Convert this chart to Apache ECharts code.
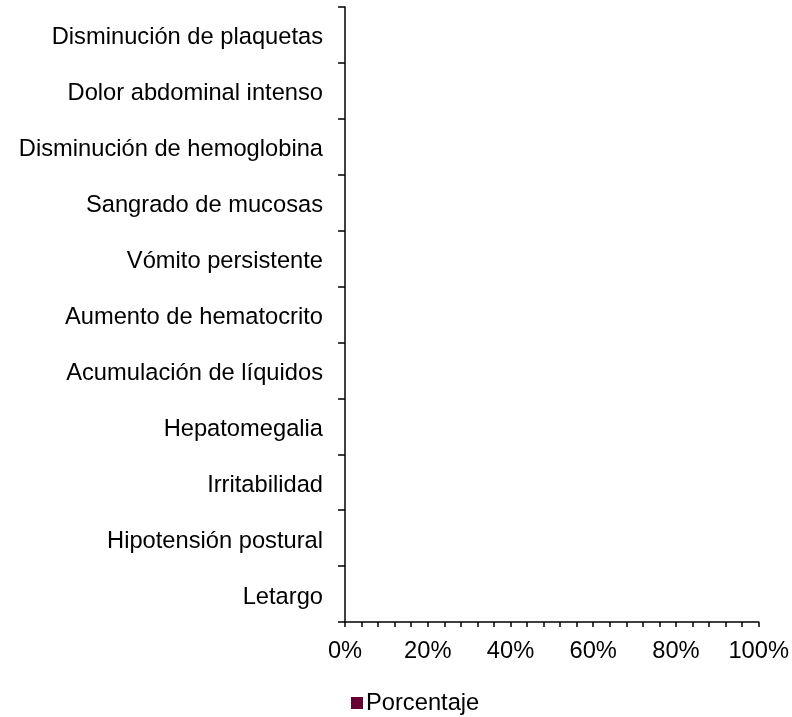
<!DOCTYPE html>
<html>
<head>
<meta charset="utf-8">
<script src="https://cdn.jsdelivr.net/npm/echarts@6/dist/echarts.min.js"></script>
<style>
html,body{margin:0;padding:0;background:#fff;}
#chart{width:792px;height:717px;}
</style>
</head>
<body>
<div id="chart"></div>
<script>
const categories = [
  "Letargo",
  "Hipotensión postural",
  "Irritabilidad",
  "Hepatomegalia",
  "Acumulación de líquidos",
  "Aumento de hematocrito",
  "Vómito persistente",
  "Sangrado de mucosas",
  "Disminución de hemoglobina",
  "Dolor abdominal intenso",
  "Disminución de plaquetas"
];
const porcentaje = [0, 0, 0, 0, 0, 0, 0, 0, 0, 0, 0];
const seriesName = "Porcentaje";
const xTicks = [0, 20, 40, 60, 80, 100];

const chart = echarts.init(document.getElementById('chart'), null, {renderer: 'canvas'});
const font = "Arial, 'Liberation Sans', sans-serif";
const fs = 23.7;
chart.setOption({
  animation: false,
  backgroundColor: '#ffffff',
  textStyle: {fontFamily: font},
  grid: {left: 345, right: 32, top: 7, bottom: 95, containLabel: false},
  legend: {
    data: [seriesName],
    left: 346, top: 686,
    icon: 'rect', itemWidth: 12, itemHeight: 12, itemGap: 10,
    textStyle: {fontSize: fs, color: '#000', fontFamily: font, padding: [0,0,0,-2]}
  },
  xAxis: {
    type: 'value',
    min: 0, max: 100, interval: 4,
    axisLine: {show: true, lineStyle: {color: '#000', width: 1.5}},
    axisTick: {show: true, length: 5, lineStyle: {color: '#000', width: 1.5}},
    splitLine: {show: false},
    axisLabel: {
      fontSize: fs, color: '#000', fontFamily: font, margin: 17,
      formatter: function (v) { return xTicks.indexOf(v) >= 0 ? v + '%' : ''; },
      showMinLabel: true, showMaxLabel: true
    }
  },
  yAxis: {
    type: 'category',
    data: categories,
    axisLine: {show: true, lineStyle: {color: '#000', width: 1.5}},
    axisTick: {show: true, length: 7, lineStyle: {color: '#000', width: 1.5}},
    axisLabel: {
      color: '#000', fontFamily: font, margin: 22, interval: 0,
      formatter: function (v) { return '{a|' + v + '}'; },
      rich: {a: {fontSize: fs, color: '#000', fontFamily: font, padding: [6, 0, 0, 0]}}
    }
  },
  series: [{
    name: seriesName,
    type: 'bar',
    data: porcentaje,
    itemStyle: {color: '#660033'},
    barWidth: '60%'
  }]
});
</script>
</body>
</html>
